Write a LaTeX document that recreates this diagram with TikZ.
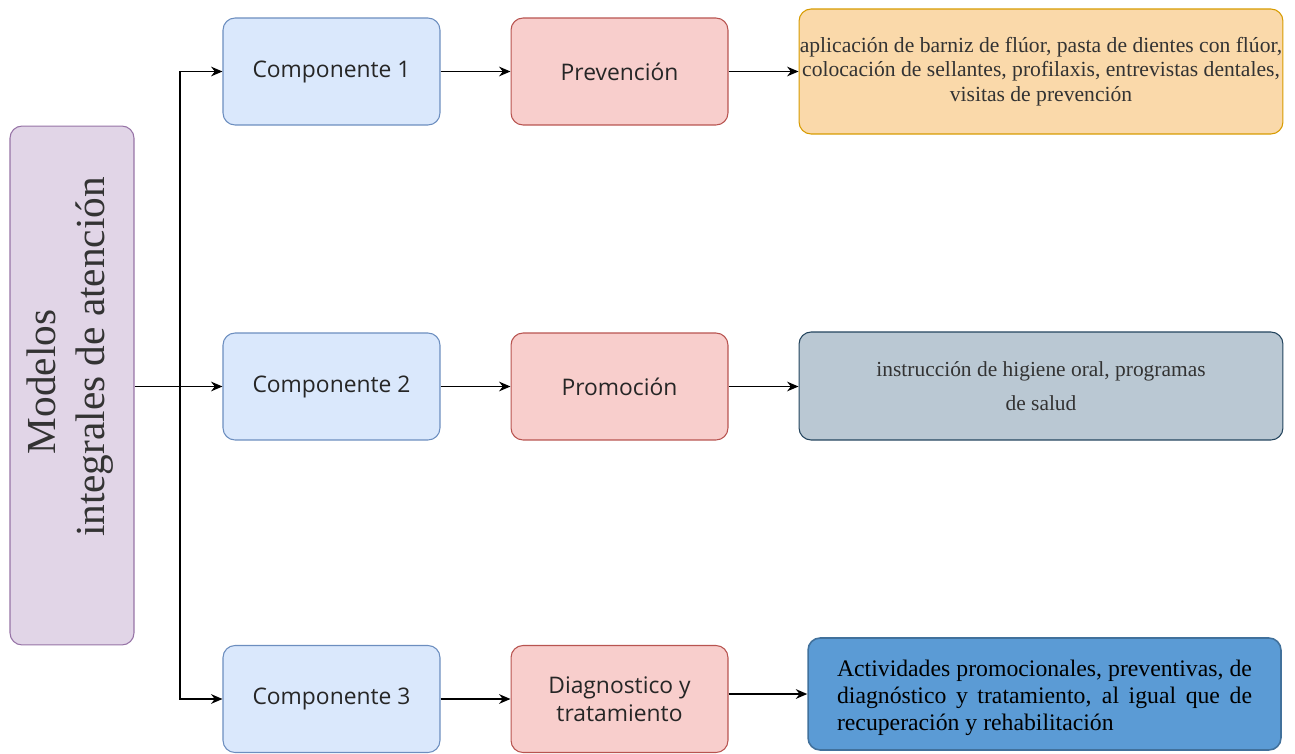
\documentclass[tikz,border=0pt]{standalone}
\usepackage{fontspec}
\setmainfont{Liberation Serif}
\newfontfamily\compfont{Open Sans}
\usetikzlibrary{arrows.meta}
\definecolor{modfill}{HTML}{E1D5E7}
\definecolor{moddraw}{HTML}{9673A6}
\definecolor{compfill}{HTML}{DAE8FC}
\definecolor{compdraw}{HTML}{6C8EBF}
\definecolor{etapafill}{HTML}{F8CECC}
\definecolor{etapadraw}{HTML}{B85450}
\definecolor{prevfill}{HTML}{FAD9AA}
\definecolor{prevdraw}{HTML}{D79B00}
\definecolor{promfill}{HTML}{BAC8D3}
\definecolor{promdraw}{HTML}{23445D}
\definecolor{diagfill}{HTML}{5B9BD5}
\definecolor{diagdraw}{HTML}{41719C}
\begin{document}
\begin{tikzpicture}[x=0.02cm, y=-0.02cm,
    caja/.style={draw, rounded corners=0.24cm, line width=0.6pt, inner sep=0pt},
    comp/.style={caja, fill=compfill, draw=compdraw, minimum width=4.34cm, minimum height=2.14cm,
        font=\compfont\fontsize{13}{16}\selectfont, text=black!85},
    etapa/.style={comp, fill=etapafill, draw=etapadraw, align=center},
    flecha/.style={-{Stealth[length=6.5pt,width=5.5pt]}, line width=0.85pt}]
    \useasboundingbox (0,0) rectangle (1295,754);
			    \node[caja, fill=modfill, draw=moddraw, minimum width=2.48cm, minimum height=10.38cm] (M) at (72,385.5) {};
			    \node[rotate=90, align=center, font=\fontsize{23.5}{28}\selectfont, text=black!80] (MT) at (70,357) {Modelos\hspace*{1.2em}\\integrales de atención};
		    	\node[comp] (C1) at (331.5,71.5) {Componente 1};
		    	\node[comp] (C2) at (331.5,386.5) {Componente 2};
		    	\node[comp] (C3) at (331.5,699) {Componente 3};
		    	\node[etapa] (P1) at (619.5,71.5) {Prevención};
		    	\node[etapa] (P2) at (619.5,386.5) {Promoción};
		    	\node[etapa] (P3) at (619.5,699) {Diagnostico y\\tratamiento};
		    	\node[caja, fill=prevfill, draw=prevdraw, minimum width=9.68cm, minimum height=2.5cm, align=center,
		    	    font=\fontsize{12.3}{13.9}\selectfont, text=black!80] (T1) at (1041,71.5) {aplicación de barniz de flúor, pasta de dientes con flúor,\\colocación de sellantes, profilaxis, entrevistas dentales,\\visitas de prevención};
		    	\node[caja, fill=promfill, draw=promdraw, minimum width=9.68cm, minimum height=2.16cm, align=center,
		    	    font=\fontsize{12.2}{19}\selectfont, text=black!80] (T2) at (1041,386) {instrucción de higiene oral, programas\\de salud};
		    	\node[caja, fill=diagfill, draw=diagdraw, line width=0.9pt, minimum width=9.46cm, minimum height=2.24cm] (T3) at (1044.5,694) {};
		    	\node[text width=8.3cm, align=justify, font=\fontsize{13.5}{15.3}\selectfont] (T3T) at ([yshift=-2pt]T3.center) {Actividades promocionales, preventivas, de\linebreak diagnóstico y tratamiento, al igual que de\linebreak recuperación y rehabilitación};
		    	\coordinate (R) at (180,386.5);
		    	
		    	\draw[flecha] (M.east |- R)--(C2);
		    	\draw[flecha] (R)|-(C1);
		    	\draw[flecha] (R)|-(C3);
		    	\draw[flecha] (C1)--(P1);
		    	\draw[flecha] (C2)--(P2);
		    	\draw[flecha] (C3)--(P3);
		    	\draw[flecha] (P1)--(T1.west |- P1);
		    	\draw[flecha] (P2)--(T2.west |- P2);
		    	\draw[flecha, line width=1.4pt] (P3.east |- T3)--(T3);
		    \end{tikzpicture}
\end{document}
